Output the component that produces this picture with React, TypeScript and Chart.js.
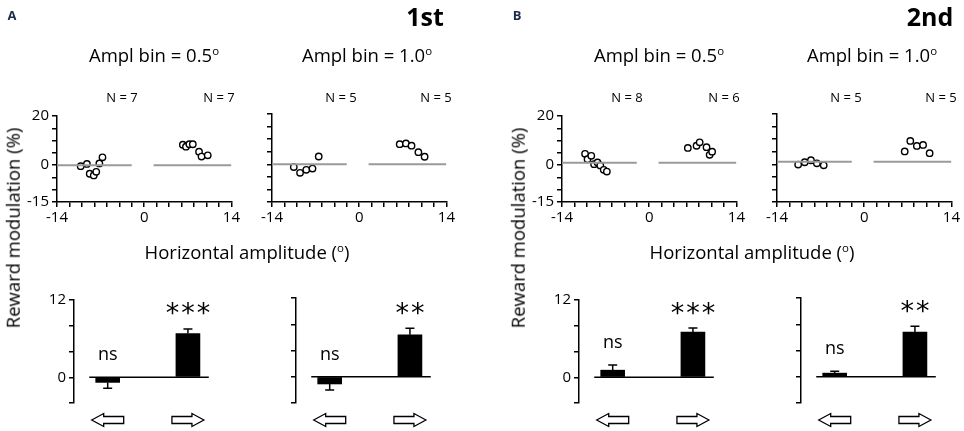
import React, { useEffect, useRef } from 'react';
import Chart from 'chart.js/auto';

const FONT = '"Open Sans", "Noto Sans", sans-serif';

// ---- scatter data (x: horizontal amplitude in deg, y: reward modulation %) ----
// A (1st), bin 0.5
const a05LeftX = [-10.2, -9.2, -8.75, -8.1, -7.7, -7.2, -6.7];
const a05LeftY = [-0.4, 0.5, -3.5, -4.2, -2.7, 0.7, 3.2];
const a05RightX = [6.2, 6.7, 7.25, 7.8, 8.8, 9.2, 10.2];
const a05RightY = [8.3, 7.5, 8.5, 8.5, 5.5, 3.5, 4.0];
// A (1st), bin 1.0
const a10LeftX = [-10.5, -9.5, -8.5, -7.5, -6.5];
const a10LeftY = [-1.1, -3.4, -2.2, -1.7, 3.1];
const a10RightX = [6.5, 7.5, 8.4, 9.5, 10.5];
const a10RightY = [8.0, 8.3, 7.4, 4.8, 3.0];
// B (2nd), bin 0.5
const b05LeftX = [-10.3, -9.9, -9.3, -8.85, -8.3, -7.85, -7.3, -6.8];
const b05LeftY = [4.6, 2.4, 3.8, 0.4, 1.1, -0.1, -1.9, -2.6];
const b05RightX = [6.2, 7.6, 8.1, 9.2, 9.7, 10.1];
const b05RightY = [7.0, 7.9, 9.3, 7.3, 4.2, 5.5];
// B (2nd), bin 1.0
const b10LeftX = [-10.6, -9.55, -8.55, -7.6, -6.5];
const b10LeftY = [-0.1, 0.8, 1.6, 0.4, -0.4];
const b10RightX = [6.5, 7.4, 8.45, 9.45, 10.5];
const b10RightY = [5.1, 9.3, 7.3, 7.7, 4.4];

const refLineLeft = [-14, -2];
const refLineRight = [1.5, 14];
const refLevelA = 0;
const refLevelB = 1;

const scatterXLabels = [-14, 0, 14];
const scatterYLabels = [20, 0, -15];

// ---- bar data (left / right saccades) ----
const barCategories = ['left', 'right'];
const barPositions = [1, 2];
const baselineSpan = [0.77, 2.26];
const barYLabels = [12, 0];

const a05Means = [-0.8, 6.8];
const a05Errors = [0.9, 0.7];
const a05Marks = ['ns', '***'];
const a10Means = [-1.1, 6.4];
const a10Errors = [0.9, 1.0];
const a10Marks = ['ns', '**'];
const b05Means = [1.1, 7.0];
const b05Errors = [0.8, 0.65];
const b05Marks = ['ns', '***'];
const b10Means = [0.55, 6.8];
const b10Errors = [0.3, 0.9];
const b10Marks = ['ns', '**'];

const AX_W = 40;
const PAD_T = 10;
const PAD_R = 10;
const AX_H = 30;

const axisLine = { color: '#000', width: 1.5 };
const tickGrid = { drawOnChartArea: false, drawTicks: true, tickLength: 5, color: '#000', lineWidth: 1.5 };

function centerText(ctx: CanvasRenderingContext2D, text: string, cx: number, cy: number) {
  ctx.textAlign = 'center';
  ctx.textBaseline = 'alphabetic';
  const m = ctx.measureText(text);
  ctx.fillText(text, cx, cy + (m.actualBoundingBoxAscent - m.actualBoundingBoxDescent) / 2);
}

interface ScatterProps {
  left: number; top: number; w: number; h: number;
  lx: number[]; ly: number[]; rx: number[]; ry: number[];
  refLevel: number; showLabels: boolean;
}

const ScatterPanel: React.FC<ScatterProps> = ({ left, top, w, h, lx, ly, rx, ry, refLevel, showLabels }) => {
  const canvasRef = useRef<HTMLCanvasElement | null>(null);
  const W = AX_W + w + PAD_R;
  const H = PAD_T + h + AX_H;

  useEffect(() => {
    if (!canvasRef.current) return;
    const pts = (xs: number[], ys: number[]) => xs.map((v, i) => ({ x: v, y: ys[i] }));
    const chart = new Chart(canvasRef.current, {
      type: 'scatter',
      data: {
        datasets: [
          { type: 'line', data: refLineLeft.map(v => ({ x: v, y: refLevel })), borderColor: '#9a9a9a', borderWidth: 2, pointRadius: 0 },
          { type: 'line', data: refLineRight.map(v => ({ x: v, y: refLevel })), borderColor: '#9a9a9a', borderWidth: 2, pointRadius: 0 },
          { data: pts(lx, ly), pointRadius: 3.2, borderColor: '#000', borderWidth: 1.4, backgroundColor: '#fff' },
          { data: pts(rx, ry), pointRadius: 3.2, borderColor: '#000', borderWidth: 1.4, backgroundColor: '#fff' },
        ],
      } as any,
      options: {
        responsive: false,
        animation: false,
        layout: { padding: { top: PAD_T, right: PAD_R, left: 0, bottom: 0 } },
        plugins: { legend: { display: false }, tooltip: { enabled: false } },
        scales: {
          x: {
            type: 'linear', min: -14, max: 14, offset: false,
            ticks: {
              stepSize: 2, autoSkip: false, maxRotation: 0, padding: 2, color: '#000',
              font: { family: FONT, size: 15 },
              callback: (v: any) => (scatterXLabels.includes(Number(v)) ? String(v) : ''),
            },
            grid: tickGrid, border: axisLine,
            afterFit: (s: any) => { s.height = AX_H; },
          },
          y: {
            type: 'linear', min: -15, max: 20,
            ticks: {
              display: showLabels,
              stepSize: 5, autoSkip: false, padding: 3,
              color: showLabels ? '#000' : 'rgba(0,0,0,0)',
              font: { family: FONT, size: 15 },
              callback: (v: any) => (showLabels && scatterYLabels.includes(Number(v)) ? String(v) : ''),
            },
            grid: tickGrid, border: axisLine,
            afterFit: (s: any) => { s.width = AX_W; },
          },
        },
      } as any,
    });
    return () => chart.destroy();
  }, [showLabels]);

  return <canvas ref={canvasRef} width={W} height={H} style={{ position: 'absolute', left: left - AX_W, top: top - PAD_T }} />;
};

interface BarProps {
  left: number; top: number; w: number; h: number;
  means: number[]; errors: number[]; marks: string[];
  showLabels: boolean;
}

const BarPanel: React.FC<BarProps> = ({ left, top, w, h, means, errors, marks, showLabels }) => {
  const canvasRef = useRef<HTMLCanvasElement | null>(null);
  const W = AX_W + w + PAD_R;
  const H = PAD_T + h + AX_H;

  useEffect(() => {
    if (!canvasRef.current) return;
    const extras = {
      id: 'extras',
      afterDatasetsDraw(chart: any) {
        const ctx: CanvasRenderingContext2D = chart.ctx;
        const ys = chart.scales.y;
        const meta = chart.getDatasetMeta(1);
        const area = chart.chartArea;
        ctx.save();
        meta.data.forEach((el: any, i: number) => {
          const m = means[i];
          const sign = m >= 0 ? 1 : -1;
          const yBar = ys.getPixelForValue(m);
          const yErr = ys.getPixelForValue(m + sign * errors[i]);
          // error bar
          ctx.strokeStyle = '#000';
          ctx.lineWidth = 1.5;
          ctx.beginPath();
          ctx.moveTo(el.x, yBar);
          ctx.lineTo(el.x, yErr);
          ctx.moveTo(el.x - 4.5, yErr);
          ctx.lineTo(el.x + 4.5, yErr);
          ctx.stroke();
          // significance mark
          const anchor = ys.getPixelForValue(Math.max(0, m >= 0 ? m + errors[i] : 0));
          ctx.fillStyle = '#000';
          if (marks[i] === 'ns') {
            ctx.font = `18px ${FONT}`;
            centerText(ctx, marks[i], el.x, anchor - 22);
          } else {
            ctx.font = `27px "DejaVu Sans"`;
            (ctx as any).letterSpacing = '2px';
            centerText(ctx, marks[i], el.x + 1, anchor - 20);
            (ctx as any).letterSpacing = '0px';
          }
          // direction arrow
          const cy = area.bottom + 17;
          const half = 16, head = 12, hh = 6.5, sh = 3.5;
          const d = barCategories[i] === 'left' ? -1 : 1;
          const tip = el.x + d * half;
          const tail = el.x - d * half;
          const neck = tip - d * head;
          ctx.beginPath();
          ctx.moveTo(tip, cy);
          ctx.lineTo(neck, cy - hh);
          ctx.lineTo(neck, cy - sh);
          ctx.lineTo(tail, cy - sh);
          ctx.lineTo(tail, cy + sh);
          ctx.lineTo(neck, cy + sh);
          ctx.lineTo(neck, cy + hh);
          ctx.closePath();
          ctx.fillStyle = '#fff';
          ctx.fill();
          ctx.lineWidth = 1.3;
          ctx.strokeStyle = '#000';
          ctx.stroke();
        });
        ctx.restore();
      },
    };

    const chart = new Chart(canvasRef.current, {
      type: 'bar',
      data: {
        datasets: [
          { type: 'line', data: baselineSpan.map(v => ({ x: v, y: 0 })), borderColor: '#000', borderWidth: 1.5, pointRadius: 0, order: 0 },
          { type: 'bar', data: means.map((v, i) => ({ x: barPositions[i], y: v })), backgroundColor: '#000', barThickness: 24, order: 1 },
        ],
      } as any,
      options: {
        responsive: false,
        animation: false,
        layout: { padding: { top: PAD_T, right: PAD_R, left: 0, bottom: AX_H } },
        plugins: { legend: { display: false }, tooltip: { enabled: false } },
        scales: {
          x: { type: 'linear', min: 0.58, max: 2.3, offset: false, display: false },
          y: {
            min: -4, max: 12,
            ticks: {
              display: showLabels,
              stepSize: 4, autoSkip: false, padding: 3, color: '#000',
              font: { family: FONT, size: 15 },
              callback: (v: any) => (showLabels && barYLabels.includes(Number(v)) ? String(v) : ''),
            },
            grid: tickGrid, border: axisLine,
            afterFit: (s: any) => { s.width = AX_W; },
          },
        },
      } as any,
      plugins: [extras],
    });
    return () => chart.destroy();
  }, [showLabels]);

  return <canvas ref={canvasRef} width={W} height={H} style={{ position: 'absolute', left: left - AX_W, top: top - PAD_T }} />;
};

const Label: React.FC<{ x: number; y: number; size: number; bold?: boolean; color?: string; rotate?: boolean; children: React.ReactNode }> =
  ({ x, y, size, bold, color, rotate, children }) => (
    <div style={{
      position: 'absolute', left: x, top: y, whiteSpace: 'nowrap', lineHeight: 1, willChange: 'transform',
      fontFamily: FONT, fontSize: size, fontWeight: bold ? 700 : 400, color: color || '#000',
      transform: `translate(-50%, -50%)${rotate ? ' rotate(-90deg)' : ''}`,
    }}>{children}</div>
  );

const Deg = () => <sup style={{ fontSize: '0.62em', verticalAlign: '0.6em', lineHeight: 0 }}>o</sup>;

interface HalfProps {
  dx: number; letter: string; order: string;
  s05: number[][]; s10: number[][]; refLevel: number;
  n: string[];
  bar05: [number[], number[], string[]]; bar10: [number[], number[], string[]];
}

const Half: React.FC<HalfProps> = ({ dx, letter, order, s05, s10, refLevel, n, bar05, bar10 }) => (
  <>
    <Label x={12 + dx} y={15} size={13} bold color="#1c2b4a">{letter}</Label>
    <Label x={425 + dx} y={16} size={25} bold>{order}</Label>
    <Label x={154 + dx} y={55} size={18.5}>Ampl bin = 0.5<Deg /></Label>
    <Label x={367 + dx} y={55} size={18.5}>Ampl bin = 1.0<Deg /></Label>
    <Label x={122 + dx} y={97} size={13}>N = {n[0]}</Label>
    <Label x={219 + dx} y={97} size={13}>N = {n[1]}</Label>
    <Label x={341 + dx} y={97} size={13}>N = {n[2]}</Label>
    <Label x={436 + dx} y={97} size={13}>N = {n[3]}</Label>
    <Label x={247 + dx} y={252} size={18.5}>Horizontal amplitude (<Deg />)</Label>
    <Label x={13 + dx} y={228} size={18.5} rotate>Reward modulation (%)</Label>
    <ScatterPanel left={57 + dx} top={114} w={175} h={88} lx={s05[0]} ly={s05[1]} rx={s05[2]} ry={s05[3]} refLevel={refLevel} showLabels={true} />
    <ScatterPanel left={272 + dx} top={114} w={175} h={88} lx={s10[0]} ly={s10[1]} rx={s10[2]} ry={s10[3]} refLevel={refLevel} showLabels={false} />
    <BarPanel left={74 + dx} top={298} w={138} h={105} means={bar05[0]} errors={bar05[1]} marks={bar05[2]} showLabels={true} />
    <BarPanel left={296 + dx} top={298} w={138} h={105} means={bar10[0]} errors={bar10[1]} marks={bar10[2]} showLabels={false} />
  </>
);

export default function App() {
  return (
    <div style={{ position: 'absolute', left: 0, top: 0, width: 964, height: 431, overflow: 'hidden', background: '#fff' }}>
      <Half dx={0} letter="A" order="1st" refLevel={refLevelA}
        s05={[a05LeftX, a05LeftY, a05RightX, a05RightY]} s10={[a10LeftX, a10LeftY, a10RightX, a10RightY]}
        n={[String(a05LeftX.length), String(a05RightX.length), String(a10LeftX.length), String(a10RightX.length)]}
        bar05={[a05Means, a05Errors, a05Marks]} bar10={[a10Means, a10Errors, a10Marks]} />
      <Half dx={505} letter="B" order="2nd" refLevel={refLevelB}
        s05={[b05LeftX, b05LeftY, b05RightX, b05RightY]} s10={[b10LeftX, b10LeftY, b10RightX, b10RightY]}
        n={[String(b05LeftX.length), String(b05RightX.length), String(b10LeftX.length), String(b10RightX.length)]}
        bar05={[b05Means, b05Errors, b05Marks]} bar10={[b10Means, b10Errors, b10Marks]} />
    </div>
  );
}
